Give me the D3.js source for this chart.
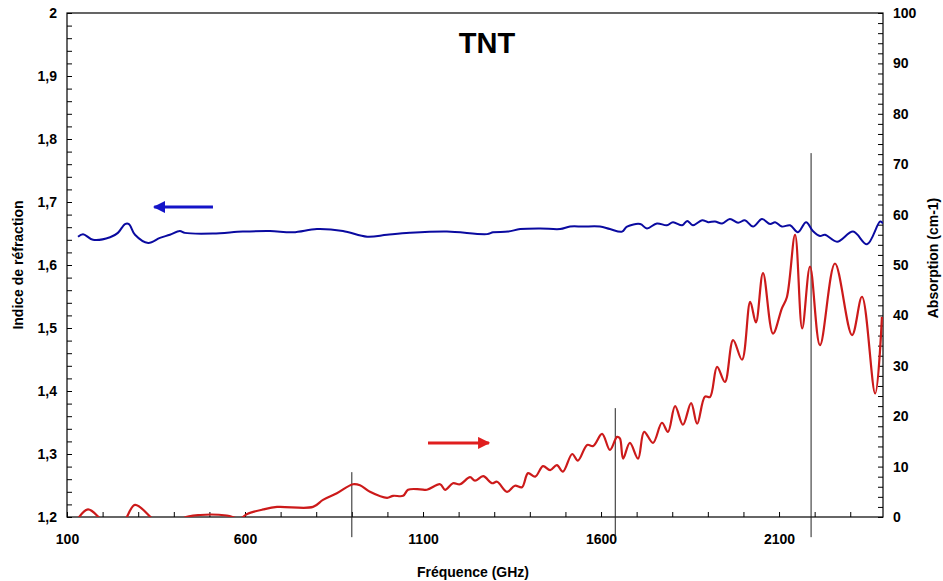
<!DOCTYPE html>
<html>
<head>
<meta charset="utf-8">
<script src="https://cdn.jsdelivr.net/npm/d3@7"></script>
<style>
  body { margin: 0; background: #fff; }
  text { font-family: "Liberation Sans", Arial, sans-serif; font-weight: bold; fill: #000; }
</style>
</head>
<body>
<div id="chart"></div>
<script>
// refraction index (left axis)
var freqIndex = [131, 145, 173, 221, 243, 263, 274, 291, 328, 361, 389, 417, 431, 510, 594, 670, 735, 802, 875, 943,
  999, 1063, 1167, 1280, 1297, 1339, 1373, 1429, 1485, 1513, 1549, 1597, 1625, 1659, 1673, 1710, 1729, 1757, 1785, 1802,
  1828, 1842, 1858, 1884, 1901, 1920, 1940, 1962, 1985, 2004, 2027, 2052, 2075, 2089, 2108, 2131, 2153, 2176, 2195, 2215,
  2229, 2263, 2308, 2347, 2384, 2392];
var indexValues = [1.645, 1.649, 1.640, 1.644, 1.651, 1.665, 1.665, 1.648, 1.635, 1.643, 1.648, 1.654, 1.651, 1.650, 1.653, 1.654, 1.652, 1.657, 1.654, 1.645,
  1.648, 1.651, 1.653, 1.649, 1.652, 1.653, 1.657, 1.658, 1.657, 1.661, 1.661, 1.661, 1.657, 1.653, 1.661, 1.665, 1.658, 1.666, 1.663, 1.668,
  1.663, 1.670, 1.663, 1.671, 1.668, 1.669, 1.666, 1.673, 1.667, 1.671, 1.661, 1.673, 1.665, 1.668, 1.661, 1.663, 1.652, 1.668, 1.654, 1.646,
  1.648, 1.637, 1.653, 1.633, 1.669, 1.666];

// absorption (right axis), values below 0 are cut by the frame
var freqAbs = [131, 159, 193, 230, 260, 266, 291, 339, 380, 420, 426, 474, 549, 586, 606, 651, 690, 791, 819, 858,
  903, 923, 951, 999, 1016, 1044, 1058, 1092, 1111, 1148, 1162, 1184, 1204, 1232, 1246, 1269, 1294, 1308, 1336, 1358,
  1378, 1395, 1415, 1437, 1457, 1476, 1493, 1519, 1535, 1561, 1578, 1603, 1625, 1645, 1653, 1662, 1681, 1704, 1721, 1746,
  1771, 1788, 1808, 1830, 1853, 1870, 1892, 1906, 1926, 1948, 1971, 1996, 2019, 2035, 2055, 2083, 2108, 2122, 2145, 2165,
  2187, 2215, 2257, 2305, 2333, 2370, 2389];
var absValues = [-0.3, 1.5, -0.3, -3, -1, -0.3, 2.4, -0.3, -3, -1.5, -0.3, 0.4, 0.3, -0.3, 0.6, 1.5, 2.0, 2.0, 3.4, 4.7,
  6.5, 6.3, 5.0, 3.8, 4.2, 4.2, 5.4, 5.5, 5.4, 6.5, 5.4, 6.7, 6.5, 7.9, 7.2, 8.1, 6.7, 7.0, 5.0, 6.2,
  5.9, 8.7, 8.0, 10.1, 9.3, 10.3, 9.0, 12.5, 11.2, 14.3, 14.1, 16.5, 13.3, 15.9, 15.6, 11.6, 14.7, 11.6, 16.9, 14.7,
  18.7, 16.9, 22.0, 18.3, 22.6, 18.5, 23.9, 23.8, 29.8, 26.8, 35.1, 31.2, 42.7, 38.6, 48.4, 36.4, 41.4, 43.6, 56.0, 37.4,
  49.7, 34.1, 50.3, 36.1, 43.7, 24.5, 39.7];

// vertical marker lines: frequency, top (absorption units)
var markerFreq = [900, 1640, 2190];
var markerTop = [8.9, 21.6, 72.2];

var xTicks = [100, 600, 1100, 1600, 2100];
var leftTicks = [1.2, 1.3, 1.4, 1.5, 1.6, 1.7, 1.8, 1.9, 2];
var rightTicks = [0, 10, 20, 30, 40, 50, 60, 70, 80, 90, 100];

var margin = {top: 13, right: 60, bottom: 64, left: 67},
    width = 943 - margin.left - margin.right,
    height = 581 - margin.top - margin.bottom;

var svg = d3.select("#chart").append("svg")
    .attr("width", 943).attr("height", 581);
var g = svg.append("g")
    .attr("transform", "translate(" + margin.left + "," + margin.top + ")");

var x = d3.scaleLinear().domain([100, 2392]).range([0, width]);
var yL = d3.scaleLinear().domain([1.2, 2]).range([height, 0]);
var yR = d3.scaleLinear().domain([0, 100]).range([height, 0]);

var fmt = function (v) { return Number.isInteger(v) ? String(v) : v.toFixed(1).replace(".", ","); };

g.append("clipPath").attr("id", "clip")
    .append("rect").attr("width", width).attr("height", height);

// frame
g.append("rect").attr("width", width).attr("height", height)
    .style("fill", "none").style("stroke", "#000").style("stroke-width", 1.2);

// left axis
var minorL = d3.range(60, 101).map(function (i) { return i / 50; });
g.append("g").call(d3.axisLeft(yL).tickValues(minorL).tickSize(-5).tickFormat(""))
    .call(function (a) { a.select(".domain").remove(); });
g.append("g").call(d3.axisLeft(yL).tickValues(leftTicks).tickSize(0).tickPadding(10).tickFormat(fmt))
    .call(function (a) { a.select(".domain").remove(); a.selectAll("text").style("font-size", "14px"); });

// right axis
var minorR = d3.range(0, 101, 2);
g.append("g").attr("transform", "translate(" + width + ",0)")
    .call(d3.axisRight(yR).tickValues(minorR).tickSize(-5).tickFormat(""))
    .call(function (a) { a.select(".domain").remove(); });
g.append("g").attr("transform", "translate(" + width + ",0)")
    .call(d3.axisRight(yR).tickValues(rightTicks).tickSize(0).tickPadding(10).tickFormat(d3.format("d")))
    .call(function (a) { a.select(".domain").remove(); a.selectAll("text").style("font-size", "14px"); });

// bottom axis
var minorX = d3.range(100, 2392, 100);
g.append("g").attr("transform", "translate(0," + height + ")")
    .call(d3.axisBottom(x).tickValues(minorX).tickSize(-5).tickFormat(""))
    .call(function (a) { a.select(".domain").remove(); });
g.append("g").attr("transform", "translate(0," + height + ")")
    .call(d3.axisBottom(x).tickValues(xTicks).tickSize(0).tickPadding(17).tickFormat(d3.format("d")))
    .call(function (a) { a.select(".domain").remove(); a.selectAll("text").style("font-size", "14px"); });

g.selectAll(".tick line").style("stroke", "#000");

// marker lines
g.selectAll(".marker").data(markerFreq).enter().append("line")
    .attr("x1", function (d) { return x(d); }).attr("x2", function (d) { return x(d); })
    .attr("y1", function (d, i) { return yR(markerTop[i]); })
    .attr("y2", yR(-4))
    .style("stroke", "#222").style("stroke-width", 1);

// curves
var idxData = freqIndex.map(function (f, i) { return [f, indexValues[i]]; });
var absData = freqAbs.map(function (f, i) { return [f, absValues[i]]; });

var lines = g.append("g").attr("clip-path", "url(#clip)");
lines.append("path").datum(absData)
    .attr("d", d3.line().x(function (d) { return x(d[0]); }).y(function (d) { return yR(d[1]); }).curve(d3.curveCatmullRom))
    .style("fill", "none").style("stroke", "#cc1a1a").style("stroke-width", 2.2);
lines.append("path").datum(idxData)
    .attr("d", d3.line().x(function (d) { return x(d[0]); }).y(function (d) { return yL(d[1]); }).curve(d3.curveCatmullRom))
    .style("fill", "none").style("stroke", "#0a0aa0").style("stroke-width", 2);

// arrows
var defs = svg.append("defs");
function head(id, col) {
  defs.append("marker").attr("id", id).attr("viewBox", "0 0 10 10")
      .attr("refX", 9).attr("refY", 5).attr("markerWidth", 4).attr("markerHeight", 4)
      .attr("orient", "auto").attr("markerUnits", "strokeWidth")
      .append("path").attr("d", "M0,0L10,5L0,10z").style("fill", col);
}
head("hb", "#1414c8");
head("hr", "#e01e1e");
g.append("line")
    .attr("x1", x(510)).attr("x2", x(345)).attr("y1", yL(1.692)).attr("y2", yL(1.692))
    .style("stroke", "#1414c8").style("stroke-width", 3).attr("marker-end", "url(#hb)");
g.append("line")
    .attr("x1", x(1114)).attr("x2", x(1285)).attr("y1", yR(14.7)).attr("y2", yR(14.7))
    .style("stroke", "#e01e1e").style("stroke-width", 3).attr("marker-end", "url(#hr)");

// titles
svg.append("text").attr("x", 487).attr("y", 53).attr("text-anchor", "middle")
    .style("font-size", "29px").text("TNT");
svg.append("text").attr("transform", "translate(23,265) rotate(-90)").attr("text-anchor", "middle")
    .style("font-size", "14px").text("Indice de réfraction");
svg.append("text").attr("transform", "translate(938,258) rotate(-90)").attr("text-anchor", "middle")
    .style("font-size", "14px").text("Absorption (cm-1)");
svg.append("text").attr("x", 473).attr("y", 577).attr("text-anchor", "middle")
    .style("font-size", "14px").text("Fréquence (GHz)");
</script>
</body>
</html>
